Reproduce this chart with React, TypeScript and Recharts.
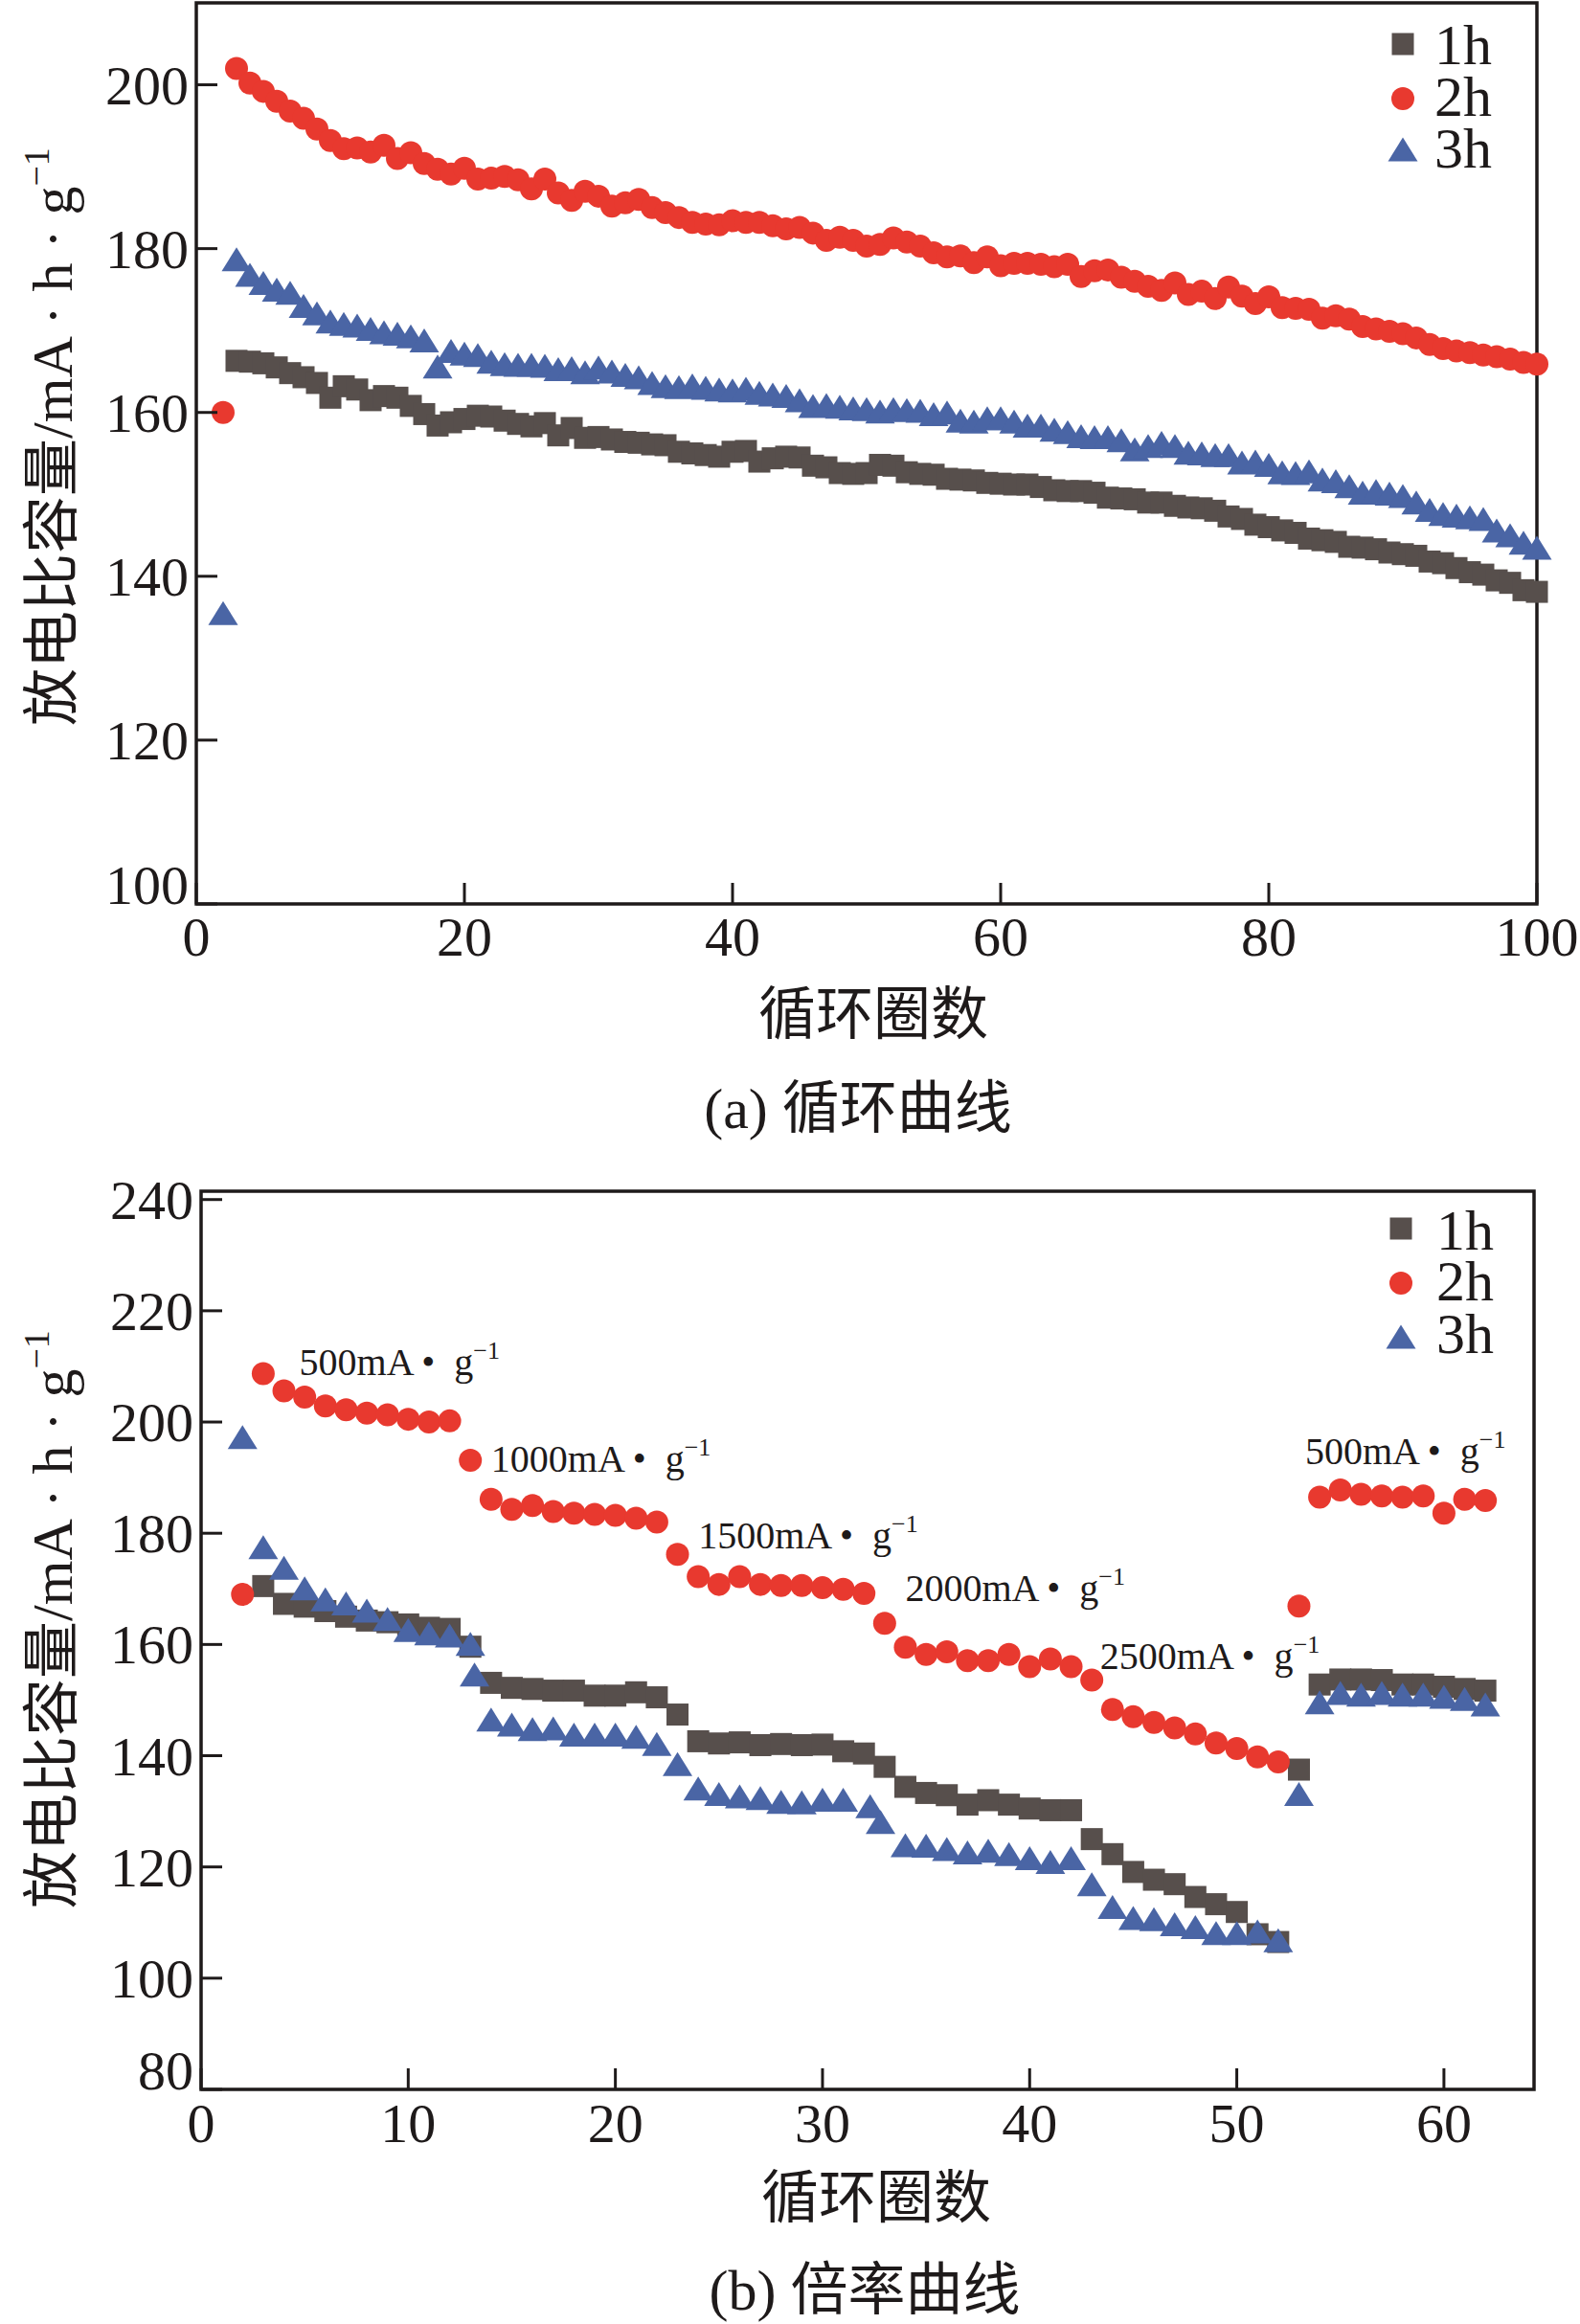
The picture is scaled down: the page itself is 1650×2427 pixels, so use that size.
import { ScatterChart, Scatter, XAxis, YAxis, ReferenceArea } from 'recharts';

const SERIES = ['1h', '2h', '3h'];
const COLORS = ['#574f4c', '#e8392f', '#4a65a5'];
const INK = '#1e1a1a';
const SERIF = "'Liberation Serif', 'Times New Roman', serif";
const CJK = "'Liberation Serif', 'Noto Sans CJK SC', serif";

// (a) cycling curve: 1h starts at cycle 3, 2h and 3h at cycle 2
const cycleStart = [3, 2, 2];
const cycle1h = [
  166.3, 166.2, 166.0, 165.5, 164.8, 164.3, 163.6, 161.8, 163.2, 162.8,
  161.5, 162.0, 161.8, 160.8, 159.8, 158.4, 158.8, 159.2, 159.6, 159.5,
  159.0, 158.6, 158.3, 158.7, 157.2, 158.1, 156.9, 157.0, 156.7, 156.4,
  156.3, 156.1, 156.0, 155.2, 155.0, 154.8, 154.6, 155.2, 155.3, 154.0,
  154.4, 154.6, 154.5, 153.5, 153.3, 152.6, 152.5, 152.6, 153.6, 153.5,
  152.7, 152.5, 152.4, 151.9, 151.8, 151.7, 151.4, 151.3, 151.2, 151.2,
  150.9, 150.5, 150.4, 150.4, 150.2, 149.6, 149.5, 149.4, 149.0, 149.0,
  148.6, 148.4, 148.3, 148.0, 147.3, 147.0, 146.3, 146.0, 145.6, 145.3,
  144.6, 144.4, 144.2, 143.6, 143.5, 143.3, 142.9, 142.7, 142.5, 141.8,
  141.6, 141.0, 140.5, 140.2, 139.5, 139.2, 138.3, 138.1,
];
const cycle2h = [
  160.0, 202.0, 200.2, 199.2, 198.0, 196.8, 195.9, 194.6, 193.2, 192.2,
  192.3, 191.8, 192.6, 191.0, 191.7, 190.4, 189.7, 189.1, 189.8, 188.5,
  188.6, 188.8, 188.4, 187.3, 188.5, 186.8, 185.9, 187.0, 186.4, 185.2,
  185.6, 186.0, 185.0, 184.4, 183.8, 183.2, 183.0, 182.9, 183.4, 183.2,
  183.2, 182.8, 182.4, 182.6, 181.9, 181.0, 181.4, 181.0, 180.3, 180.5,
  181.3, 180.8, 180.3, 179.5, 179.0, 179.1, 178.3, 179.0, 177.9, 178.2,
  178.2, 178.1, 177.8, 178.1, 176.6, 177.3, 177.4, 176.5, 176.0, 175.4,
  174.9, 175.8, 174.4, 174.8, 173.9, 175.3, 174.2, 173.3, 174.1, 172.8,
  172.7, 172.6, 171.5, 171.8, 171.4, 170.5, 170.2, 169.9, 169.6, 169.1,
  168.3, 167.8, 167.5, 167.3, 167.0, 166.8, 166.5, 166.1, 165.9,
];
const cycle3h = [
  135.5, 178.7, 176.8, 175.8, 175.0, 174.6, 173.0, 172.1, 171.1, 170.8,
  170.6, 170.2, 169.8, 169.6, 169.3, 168.8, 165.6, 167.5, 167.2, 167.0,
  166.2, 165.9, 165.8, 165.8, 165.7, 165.3, 165.4, 164.9, 165.5, 165.0,
  164.6, 164.3, 163.6, 163.2, 163.1, 163.3, 163.0, 162.8, 162.7, 162.9,
  162.4, 162.2, 162.0, 161.5, 160.8, 160.9, 160.7, 160.5, 160.4, 160.1,
  160.4, 160.3, 160.2, 159.8, 160.0, 159.0, 158.9, 159.3, 159.3, 158.9,
  158.4, 158.4, 157.9, 157.6, 157.1, 157.0, 157.0, 156.6, 155.5, 155.9,
  156.3, 155.9, 155.1, 155.0, 154.8, 154.8, 153.9, 154.0, 153.6, 152.7,
  152.6, 152.8, 151.8, 151.6, 151.0, 150.2, 150.4, 150.1, 149.8, 149.0,
  148.1, 147.6, 147.4, 147.2, 147.0, 145.6, 145.0, 144.1, 143.5,
];
const cycleDomainX = [0, 100];
const cycleDomainY = [100, 210];
const cycleTicksX = [0, 20, 40, 60, 80, 100];
const cycleTicksY = [100, 120, 140, 160, 180, 200];

// (b) rate curve
const rate1hCycles = [
  3, 4, 5, 6, 7, 8, 9, 10, 11, 12, 13, 14, 15, 16, 17, 18, 19, 20, 21, 22,
  23, 24, 25, 26, 27, 28, 29, 30, 31, 32, 33, 34, 35, 36, 37, 38, 39, 40, 41, 42,
  43, 44, 45, 46, 47, 48, 49, 50, 51, 52, 53, 54, 55, 56, 57, 58, 59, 60, 61, 62,
];
const rate1h = [
  170.5, 167.3, 166.8, 166.0, 165.0, 164.3, 164.0, 163.6, 163.0, 162.8,
  159.6, 153.1, 152.2, 152.0, 151.7, 151.7, 150.8, 150.8, 151.4, 150.5,
  147.4, 142.6, 142.2, 142.4, 141.9, 142.1, 141.9, 142.0, 140.8, 140.4,
  138.0, 134.4, 133.3, 132.9, 131.2, 132.0, 131.2, 130.5, 130.2, 130.2,
  125.0, 122.3, 119.1, 117.7, 116.9, 114.6, 113.3, 111.9, 107.9, 106.5,
  137.5, 152.8, 153.7, 153.7, 153.6, 152.8, 152.8, 152.4, 152.0, 151.7,
];
const rate2hCycles = [
  2, 3, 4, 5, 6, 7, 8, 9, 10, 11, 12, 13, 14, 15, 16, 17, 18, 19, 20, 21, 22,
  23, 24, 25, 26, 27, 28, 29, 30, 31, 32, 33, 34, 35, 36, 37, 38, 39, 40, 41, 42,
  43, 44, 45, 46, 47, 48, 49, 50, 51, 52, 53, 54, 55, 56, 57, 58, 59, 60, 61, 62,
];
const rate2h = [
  169.0, 208.7, 205.6, 204.5, 202.9, 202.2, 201.6, 201.3, 200.5, 200.0,
  200.2, 193.1, 186.1, 184.3, 185.0, 183.9, 183.6, 183.4, 183.2, 182.7,
  182.0, 176.2, 172.2, 170.8, 172.2, 170.8, 170.6, 170.6, 170.2, 169.9,
  169.2, 163.8, 159.5, 158.2, 158.7, 157.1, 157.1, 158.2, 156.0, 157.4,
  156.0, 153.6, 148.3, 147.0, 146.0, 145.0, 143.9, 142.3, 141.3, 139.8,
  138.9, 166.9, 186.5, 187.8, 187.0, 186.7, 186.5, 186.7, 183.6, 186.1,
  185.9,
];
const rate3hCycles = [
  2, 3, 4, 5, 6, 7, 8, 9, 10, 11, 12, 13, 13.2, 14, 15, 16, 17, 18, 19, 20, 21, 22,
  23, 24, 25, 26, 27, 28, 29, 30, 31, 32.3, 32.8, 34, 35, 36, 37, 38, 39, 40, 41, 42,
  43, 44, 45, 46, 47, 48, 49, 50, 51, 52, 53, 54, 55, 56, 57, 58, 59, 60, 61, 62,
];
const rate3h = [
  197.3, 177.5, 173.8, 170.1, 168.1, 167.4, 166.1, 164.6, 162.6, 162.0,
  161.6, 160.1, 154.6, 146.5, 145.6, 144.8, 144.9, 143.8, 143.8, 143.8,
  143.4, 142.1, 138.5, 134.1, 133.1, 132.7, 132.4, 131.7, 131.6, 132.1,
  132.1, 130.9, 128.1, 123.9, 123.8, 123.2, 122.6, 122.9, 122.3, 121.6,
  120.9, 121.6, 116.9, 112.8, 110.8, 110.6, 109.7, 109.2, 108.1, 108.1,
  108.4, 106.8, 133.1, 149.6, 151.3, 151.0, 151.3, 151.0, 151.0, 150.6,
  150.2, 149.2,
];
// current-density notes, anchored at (cycle, capacity) of the text baseline start
const rateLabels = [
  { x: 4.74, y: 208.4, t: '500mA' },
  { x: 14.0, y: 191.0, t: '1000mA' },
  { x: 24.0, y: 177.3, t: '1500mA' },
  { x: 34.0, y: 167.8, t: '2000mA' },
  { x: 43.4, y: 155.5, t: '2500mA' },
  { x: 53.3, y: 192.5, t: '500mA' },
];
const rateDomainX = [0, 64.35];
const rateDomainY = [80, 241.5];
const rateTicksX = [0, 10, 20, 30, 40, 50, 60];
const rateTicksY = [80, 100, 120, 140, 160, 180, 200, 220, 240];

const seq = (start: number, values: number[]) => values.map((y, i) => ({ x: start + i, y }));
const pair = (xs: number[], ys: number[]) => xs.map((x, i) => ({ x, y: ys[i] }));

const cycleData = [seq(cycleStart[0], cycle1h), seq(cycleStart[1], cycle2h), seq(cycleStart[2], cycle3h)];
const rateData = [pair(rate1hCycles, rate1h), pair(rate2hCycles, rate2h), pair(rate3hCycles, rate3h)];

function marker(kind: number, cx: number, cy: number, key?: string | number) {
  if (cx == null || cy == null) return <g key={key} />;
  if (kind === 0) return <rect key={key} x={cx - 11.5} y={cy - 11.5} width={23} height={23} fill={COLORS[0]} />;
  if (kind === 1) return <circle key={key} cx={cx} cy={cy} r={12} fill={COLORS[1]} />;
  return (
    <path
      key={key}
      d={`M${cx},${cy - 12.5}L${cx + 15.5},${cy + 12.5}L${cx - 15.5},${cy + 12.5}Z`}
      fill={COLORS[2]}
    />
  );
}

const XTick = ({ x, y, payload, gap }: any) => (
  <g>
    <line x1={x} y1={y} x2={x} y2={y - 22} stroke={INK} strokeWidth={3} />
    <text x={x} y={y + gap} textAnchor="middle" fontSize={58} fontFamily={SERIF} fill={INK}>
      {payload.value}
    </text>
  </g>
);

// the lowest label sits a little above its tick so it clears the x labels
const YTick = ({ x, y, payload, index }: any) => (
  <g>
    <line x1={x} y1={y} x2={x + 22} y2={y} stroke={INK} strokeWidth={3} />
    <text x={x - 8} y={y + (index === 0 ? 0 : 20)} textAnchor="end" fontSize={58} fontFamily={SERIF} fill={INK}>
      {payload.value}
    </text>
  </g>
);

const RateLabel = (p: any) => (
  <text x={p.cx} y={p.cy} fontSize={40} fontFamily={SERIF} fill={INK}>
    {p.payload?.t ?? p.t}
    <tspan>{' •\u2002g'}</tspan>
    <tspan dy={-17} fontSize={26}>−1</tspan>
  </text>
);

function Legend({ cx, tx, rows, baselines }: { cx: number; tx: number; rows: number[]; baselines: number[] }) {
  return (
    <g>
      {SERIES.map((name, i) => (
        <g key={name}>
          {marker(i, cx, rows[i])}
          <text x={tx} y={baselines[i]} fontSize={60} fontFamily={SERIF} fill={INK}>{name}</text>
        </g>
      ))}
    </g>
  );
}

function YTitle({ x, y }: { x: number; y: number }) {
  return (
    <text transform={`rotate(-90 ${x} ${y})`} x={x} y={y} textAnchor="middle" fontSize={60} fontFamily={CJK} fill={INK}>
      放电比容量/mA · h · g<tspan dy={-24} fontSize={38}>−1</tspan>
    </text>
  );
}

export default function App() {
  return (
    <div style={{ position: 'absolute', left: 0, top: 0, width: 1650, height: 2427, background: '#fff' }}>
      <div style={{ position: 'absolute', left: 0, top: 0 }}>
        <ScatterChart width={1650} height={1030} margin={{ top: 3, right: 45, bottom: 0, left: 0 }}>
          <ReferenceArea
            x1={cycleDomainX[0]} x2={cycleDomainX[1]} y1={cycleDomainY[0]} y2={cycleDomainY[1]}
            fill="none" stroke={INK} strokeWidth={3.5} fillOpacity={0} ifOverflow="visible"
          />
          <XAxis
            type="number" dataKey="x" domain={cycleDomainX} ticks={cycleTicksX} interval={0}
            axisLine={false} tickLine={false} tickSize={0} tickMargin={0} height={86}
            tick={<XTick gap={54} />}
          />
          <YAxis
            type="number" dataKey="y" domain={cycleDomainY} ticks={cycleTicksY} interval={0}
            axisLine={false} tickLine={false} tickSize={0} tickMargin={0} width={205}
            tick={<YTick />}
          />
          {cycleData.map((d, i) => (
            <Scatter
              key={SERIES[i]} name={SERIES[i]} data={d} isAnimationActive={false}
              shape={(p: any) => marker(i, p.cx, p.cy)}
            />
          ))}
        </ScatterChart>
      </div>
      <div style={{ position: 'absolute', left: 0, top: 1200 }}>
        <ScatterChart width={1650} height={1072} margin={{ top: 44, right: 48, bottom: 0, left: 0 }}>
          <ReferenceArea
            x1={rateDomainX[0]} x2={rateDomainX[1]} y1={rateDomainY[0]} y2={rateDomainY[1]}
            fill="none" stroke={INK} strokeWidth={3.5} fillOpacity={0} ifOverflow="visible"
          />
          <XAxis
            type="number" dataKey="x" domain={rateDomainX} ticks={rateTicksX} interval={0}
            axisLine={false} tickLine={false} tickSize={0} tickMargin={0} height={90}
            tick={<XTick gap={55} />}
          />
          <YAxis
            type="number" dataKey="y" domain={rateDomainY} ticks={rateTicksY} interval={0}
            axisLine={false} tickLine={false} tickSize={0} tickMargin={0} width={210}
            tick={<YTick />}
          />
          {rateData.map((d, i) => (
            <Scatter
              key={SERIES[i]} name={SERIES[i]} data={d} isAnimationActive={false}
              shape={(p: any) => marker(i, p.cx, p.cy)}
            />
          ))}
          <Scatter name="labels" data={rateLabels} isAnimationActive={false} shape={RateLabel} />
        </ScatterChart>
      </div>
      <svg width={1650} height={2427} style={{ position: 'absolute', left: 0, top: 0, pointerEvents: 'none' }}>
        <Legend cx={1465} tx={1498} rows={[46, 103, 156]} baselines={[67, 121, 175]} />
        <Legend cx={1463} tx={1500} rows={[1283, 1340, 1396]} baselines={[1305, 1358, 1413]} />
        <YTitle x={75} y={456} />
        <YTitle x={75} y={1691} />
        <text x={912} y={1080} textAnchor="middle" fontSize={60} fontFamily={CJK} fill={INK}>循环圈数</text>
        <text x={915} y={2316} textAnchor="middle" fontSize={60} fontFamily={CJK} fill={INK}>循环圈数</text>
        <text x={896} y={1178} textAnchor="middle" fontSize={60} fontFamily={CJK} fill={INK}>(a) 循环曲线</text>
        <text x={903} y={2412} textAnchor="middle" fontSize={60} fontFamily={CJK} fill={INK}>(b) 倍率曲线</text>
      </svg>
    </div>
  );
}
